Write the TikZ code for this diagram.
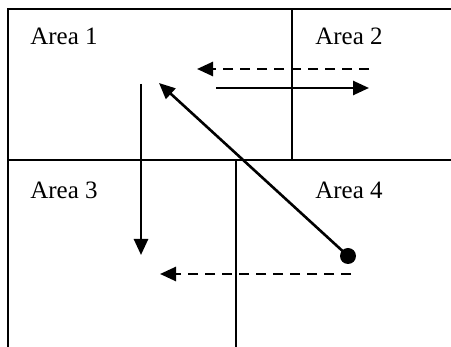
\documentclass[tikz,border=0pt]{standalone}
\usepackage{fontspec}
\setmainfont{Liberation Serif}
\usetikzlibrary{arrows.meta}
\begin{document}
\begin{tikzpicture}[x=1pt,y=-1pt,
  frame/.style={line width=1.5pt},
  arr/.style={line width=2.6pt,-{Triangle[length=16pt,width=14pt]}},
  dasharr/.style={arr,dash pattern=on 10pt off 7pt},
  lbl/.style={font=\fontsize{25}{30}\selectfont,inner sep=0pt}]
\useasboundingbox (0,0) rectangle (451,347);
% frame lines
\draw[frame] (8,347) -- (8,9) -- (451,9);
\draw[frame] (8,160) -- (451,160);
\draw[frame] (292,9) -- (292,160);
\draw[frame] (236,160) -- (236,347);
% labels
\node[lbl] (a1) at (64,36) {Area 1};
\node[lbl] (a2) at (349,36) {Area 2};
\node[lbl] (a3) at (64,190) {Area 3};
\node[lbl] (a4) at (349,190) {Area 4};
% connector end points
\coordinate (d1s) at (369,69);
\coordinate (d1e) at (197,69);
\coordinate (s1s) at (216,88);
\coordinate (s1e) at (369,88);
\coordinate (vs) at (141,84);
\coordinate (ve) at (141,255);
\coordinate (dot) at (348,256);
\coordinate (diage) at (159,83);
\coordinate (d2s) at (351,274);
\coordinate (d2e) at (160,274);
% arrows
\draw[dasharr] (d1s) -- (d1e);
\draw[arr] (s1s) -- (s1e);
\draw[arr] (vs) -- (ve);
\draw[arr] (dot) -- (diage);
\fill (dot) circle (8pt);
\draw[dasharr] (d2s) -- (d2e);
\end{tikzpicture}
\end{document}
